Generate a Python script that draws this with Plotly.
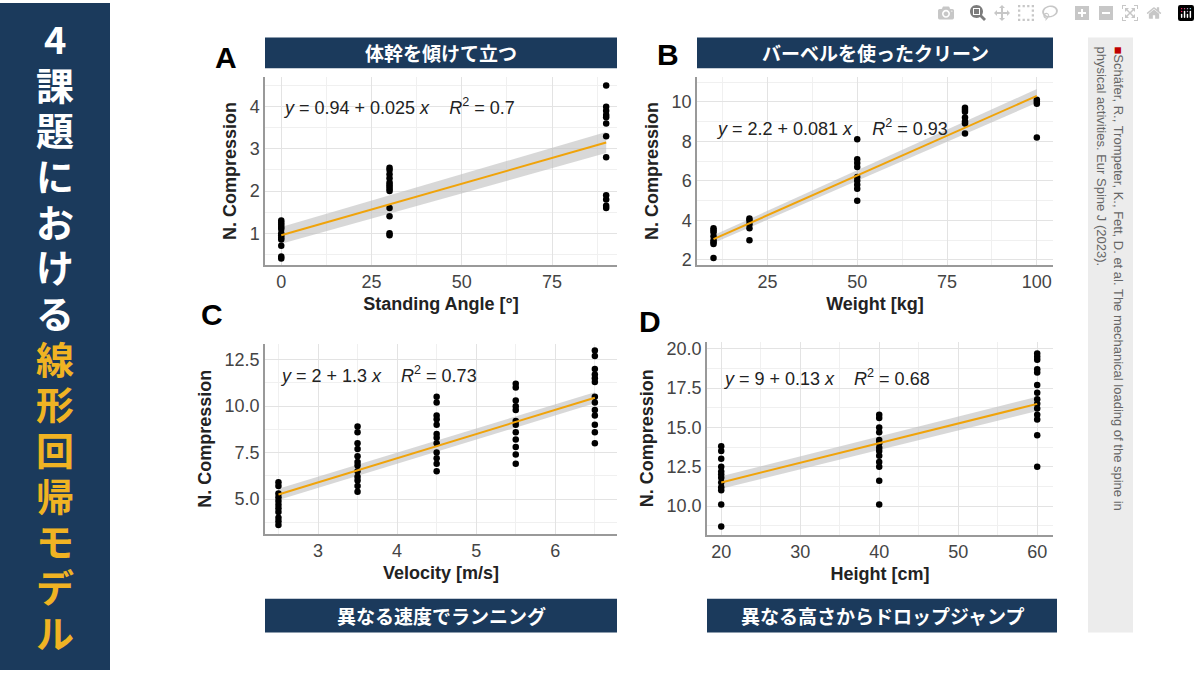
import plotly.graph_objects as go

# ---------- data ----------
a_x = [0, 30, 90]
a_y = [[1.3, 1.25, 1.2, 1.15, 1.1, 1.0, 0.95, 0.9, 0.85, 0.7, 0.45, 0.4],
       [2.55, 2.5, 2.4, 2.3, 2.2, 2.15, 2.1, 2.05, 2.0, 1.6, 1.4, 1.0, 0.95],
       [4.5, 4.0, 3.9, 3.8, 3.75, 3.6, 3.3, 2.8, 1.9, 1.8, 1.65, 1.6]]
a_fit_x = [0, 90]; a_fit_y = [0.95, 3.15]; a_band = [0.2, 0.25]

b_x = [10, 20, 50, 80, 100]
b_y = [[3.6, 3.5, 3.4, 3.2, 3.0, 2.9, 2.8, 2.1],
       [4.1, 4.0, 3.8, 3.6, 3.0],
       [8.1, 7.1, 6.9, 6.7, 6.2, 6.0, 5.8, 5.6, 5.0],
       [9.7, 9.6, 9.5, 9.2, 9.0, 8.9, 8.4],
       [10.1, 10.0, 9.9, 8.2]]
b_fit_x = [10, 100]; b_fit_y = [3.05, 10.3]; b_band = [0.2, 0.35]

c_x = [2.5, 3.5, 4.5, 5.5, 6.5]
c_y = [[5.9, 5.7, 5.3, 5.1, 4.9, 4.7, 4.5, 4.3, 4.0, 3.8, 3.6],
       [8.9, 8.6, 8.0, 7.7, 7.3, 7.0, 6.8, 6.5, 6.2, 6.0, 5.7, 5.4],
       [10.5, 10.2, 9.5, 9.3, 9.0, 8.5, 8.3, 8.0, 7.5, 7.2, 6.9, 6.5],
       [11.2, 11.0, 10.3, 10.0, 9.8, 9.2, 9.0, 8.6, 8.2, 7.8, 7.4, 6.9],
       [13.0, 12.7, 12.0, 11.7, 11.5, 11.3, 10.5, 10.2, 9.8, 9.5, 9.0, 8.6, 8.0]]
c_fit_x = [2.5, 6.5]; c_fit_y = [5.25, 10.45]; c_band = [0.3, 0.3]

d_x = [20, 40, 60]
d_y = [[13.8, 13.5, 13.0, 12.5, 12.2, 12.0, 11.8, 11.5, 11.2, 11.0, 10.1, 8.7],
       [15.8, 15.6, 15.0, 14.7, 14.2, 14.0, 13.7, 13.5, 13.2, 12.8, 12.5, 11.6, 10.1],
       [19.7, 19.5, 19.3, 18.7, 18.5, 17.7, 17.2, 16.8, 16.5, 16.2, 15.8, 15.5, 14.5, 12.5]]
d_fit_x = [20, 60]; d_fit_y = [11.5, 16.5]; d_band = [0.4, 0.45]

NAVY = "#1b3a5c"; GOLD = "#f0b323"; ORANGE = "#f0a30a"

W, H = 1200, 675
panels = [
    dict(key="", xs=a_x, ys=a_y, fx=a_fit_x, fy=a_fit_y, band=a_band, px=(265, 617), py=(75, 265),
         xr=[-4.5, 93], yr=[0.25, 4.7], xt=[0, 25, 50, 75], yt=[1, 2, 3, 4], xd=25, yd=1, fmt="%g",
         xtitle="Standing Angle [°]", eq="<i>y</i> = 0.94 + 0.025 <i>x</i>    <i>R</i><sup>2</sup> = 0.7", eqx=0, eqy=4.0),
    dict(key="2", xs=b_x, ys=b_y, fx=b_fit_x, fy=b_fit_y, band=b_band, px=(697, 1053), py=(75, 265),
         xr=[5.4, 104.5], yr=[1.75, 11.25], xt=[25, 50, 75, 100], yt=[2, 4, 6, 8, 10], xd=25, yd=2, fmt="%g",
         xtitle="Weight [kg]", eq="<i>y</i> = 2.2 + 0.081 <i>x</i>    <i>R</i><sup>2</sup> = 0.93", eqx=10, eqy=8.7),
    dict(key="3", xs=c_x, ys=c_y, fx=c_fit_x, fy=c_fit_y, band=c_band, px=(265, 617), py=(345, 537),
         xr=[2.33, 6.78], yr=[3.14, 13.35], xt=[3, 4, 5, 6], yt=[5, 7.5, 10, 12.5], xd=1, yd=2.5, fmt="%.1f",
         xtitle="Velocity [m/s]", eq="<i>y</i> = 2 + 1.3 <i>x</i>    <i>R</i><sup>2</sup> = 0.73", eqx=2.5, eqy=11.7),
    dict(key="4", xs=d_x, ys=d_y, fx=d_fit_x, fy=d_fit_y, band=d_band, px=(707, 1053), py=(343, 538),
         xr=[18.2, 62], yr=[8.18, 20.44], xt=[20, 30, 40, 50, 60], yt=[10, 12.5, 15, 17.5, 20], xd=10, yd=2.5, fmt="%.1f",
         xtitle="Height [cm]", eq="<i>y</i> = 9 + 0.13 <i>x</i>    <i>R</i><sup>2</sup> = 0.68", eqx=20, eqy=18.2),
]

fig = go.Figure()
layout = dict(width=W, height=H, margin=dict(l=0, r=0, t=0, b=0), paper_bgcolor="white",
              plot_bgcolor="rgba(0,0,0,0)", showlegend=False,
              font=dict(family="Liberation Sans, Arial", color="#222"))
annotations = []
shapes = []

for p in panels:
    k = p["key"]
    xa = "x" + k; ya = "y" + k
    fig.add_trace(go.Scatter(x=p["fx"] + p["fx"][::-1],
                             y=[p["fy"][0] + p["band"][0], p["fy"][1] + p["band"][1],
                                p["fy"][1] - p["band"][1], p["fy"][0] - p["band"][0]],
                             fill="toself", fillcolor="rgba(190,190,190,0.6)", line=dict(width=0),
                             mode="lines", xaxis=xa, yaxis=ya, hoverinfo="skip"))
    px, py = [], []
    for xv, ys in zip(p["xs"], p["ys"]):
        px += [xv] * len(ys); py += ys
    fig.add_trace(go.Scatter(x=px, y=py, mode="markers", marker=dict(color="black", size=6.5),
                             xaxis=xa, yaxis=ya))
    fig.add_trace(go.Scatter(x=p["fx"], y=p["fy"], mode="lines", line=dict(color=ORANGE, width=2),
                             xaxis=xa, yaxis=ya))
    ax_common = dict(showgrid=True, gridcolor="#e3e3e3", gridwidth=1, showline=True, linecolor="#999",
                     linewidth=1.5, zeroline=False, ticks="", tickfont=dict(size=18, color="#444"))
    layout["xaxis" + k] = dict(ax_common, domain=[p["px"][0] / W, p["px"][1] / W], range=p["xr"],
                               tickvals=p["xt"], anchor=ya,
                               minor=dict(showgrid=True, gridcolor="#f0f0f0", dtick=p["xd"] / 2, tick0=p["xt"][0]),
                               title=dict(text="<b>" + p["xtitle"] + "</b>", font=dict(size=18, color="#222"), standoff=6))
    layout["yaxis" + k] = dict(ax_common, domain=[1 - p["py"][1] / H, 1 - p["py"][0] / H], range=p["yr"],
                               tickvals=p["yt"], ticktext=[p["fmt"] % v for v in p["yt"]], anchor=xa,
                               minor=dict(showgrid=True, gridcolor="#f0f0f0", dtick=p["yd"] / 2, tick0=p["yt"][0]),
                               title=dict(text="<b>N. Compression</b>", font=dict(size=18, color="#222"), standoff=8))
    annotations.append(dict(x=p["eqx"], y=p["eqy"], xref=xa, yref=ya, text=p["eq"], showarrow=False,
                            xanchor="left", yanchor="middle", font=dict(size=18, color="#222")))

banners = [((265, 617, 35, 66), "体幹を傾けて立つ"), ((697, 1053, 35, 66), "バーベルを使ったクリーン"),
           ((265, 617, 603, 637), "異なる速度でランニング"), ((707, 1057, 603, 637), "異なる高さからドロップジャンプ")]
for (x0, x1, y0, y1), t in banners:
    shapes.append(dict(type="rect", xref="paper", yref="paper", x0=x0 / W, x1=x1 / W, y0=1 - y1 / H, y1=1 - y0 / H,
                       fillcolor=NAVY, line=dict(width=0), layer="below"))
    annotations.append(dict(x=(x0 + x1) / 2 / W, y=1 - (y0 + y1) / 2 / H, xref="paper", yref="paper", text="<b>" + t + "</b>",
                            showarrow=False, xanchor="center", yanchor="middle",
                            font=dict(size=19, color="white", family="Noto Sans CJK JP")))
for (x, y), t in zip([(226, 55), (668, 52), (212, 315), (650, 322)], "ABCD"):
    annotations.append(dict(x=x / W, y=1 - y / H, xref="paper", yref="paper", text="<b>" + t + "</b>", showarrow=False,
                            xanchor="center", yanchor="middle",
                            font=dict(size=30, color="black", family="Liberation Sans")))

shapes.append(dict(type="rect", xref="paper", yref="paper", x0=0, x1=110 / W, y0=0, y1=1,
                   fillcolor=NAVY, line=dict(width=0), layer="below"))
chars = list("4課題における線形回帰モデル")
for i, ch in enumerate(chars):
    col = "white" if i < 7 else GOLD
    annotations.append(dict(x=55 / W, y=1 - (35 + i * 46.2) / H, xref="paper", yref="paper", text="<b>" + ch + "</b>",
                            showarrow=False, xanchor="center", yanchor="middle",
                            font=dict(size=38, color=col, family="Noto Sans CJK JP")))

shapes.append(dict(type="rect", xref="paper", yref="paper", x0=1088 / W, x1=1133 / W, y0=1 - 637 / H, y1=1 - 35 / H,
                   fillcolor="#ececec", line=dict(width=0), layer="below"))
annotations.append(dict(x=1110 / W, y=1 - 42 / H, xref="paper", yref="paper", textangle=90,
                        xanchor="center", yanchor="top", align="left", showarrow=False,
                        text="<span style='color:#c00000'>■</span>Schäfer, R., Trompeter, K., Fett, D. et al. The mechanical loading of the spine in<br>physical activities. Eur Spine J (2023).",
                        font=dict(size=13, color="#666")))

layout["annotations"] = annotations
layout["shapes"] = shapes
fig.update_layout(**layout)
fig.write_html("out.html", post_script="document.body.style.margin='0';document.body.style.overflow='hidden';")
